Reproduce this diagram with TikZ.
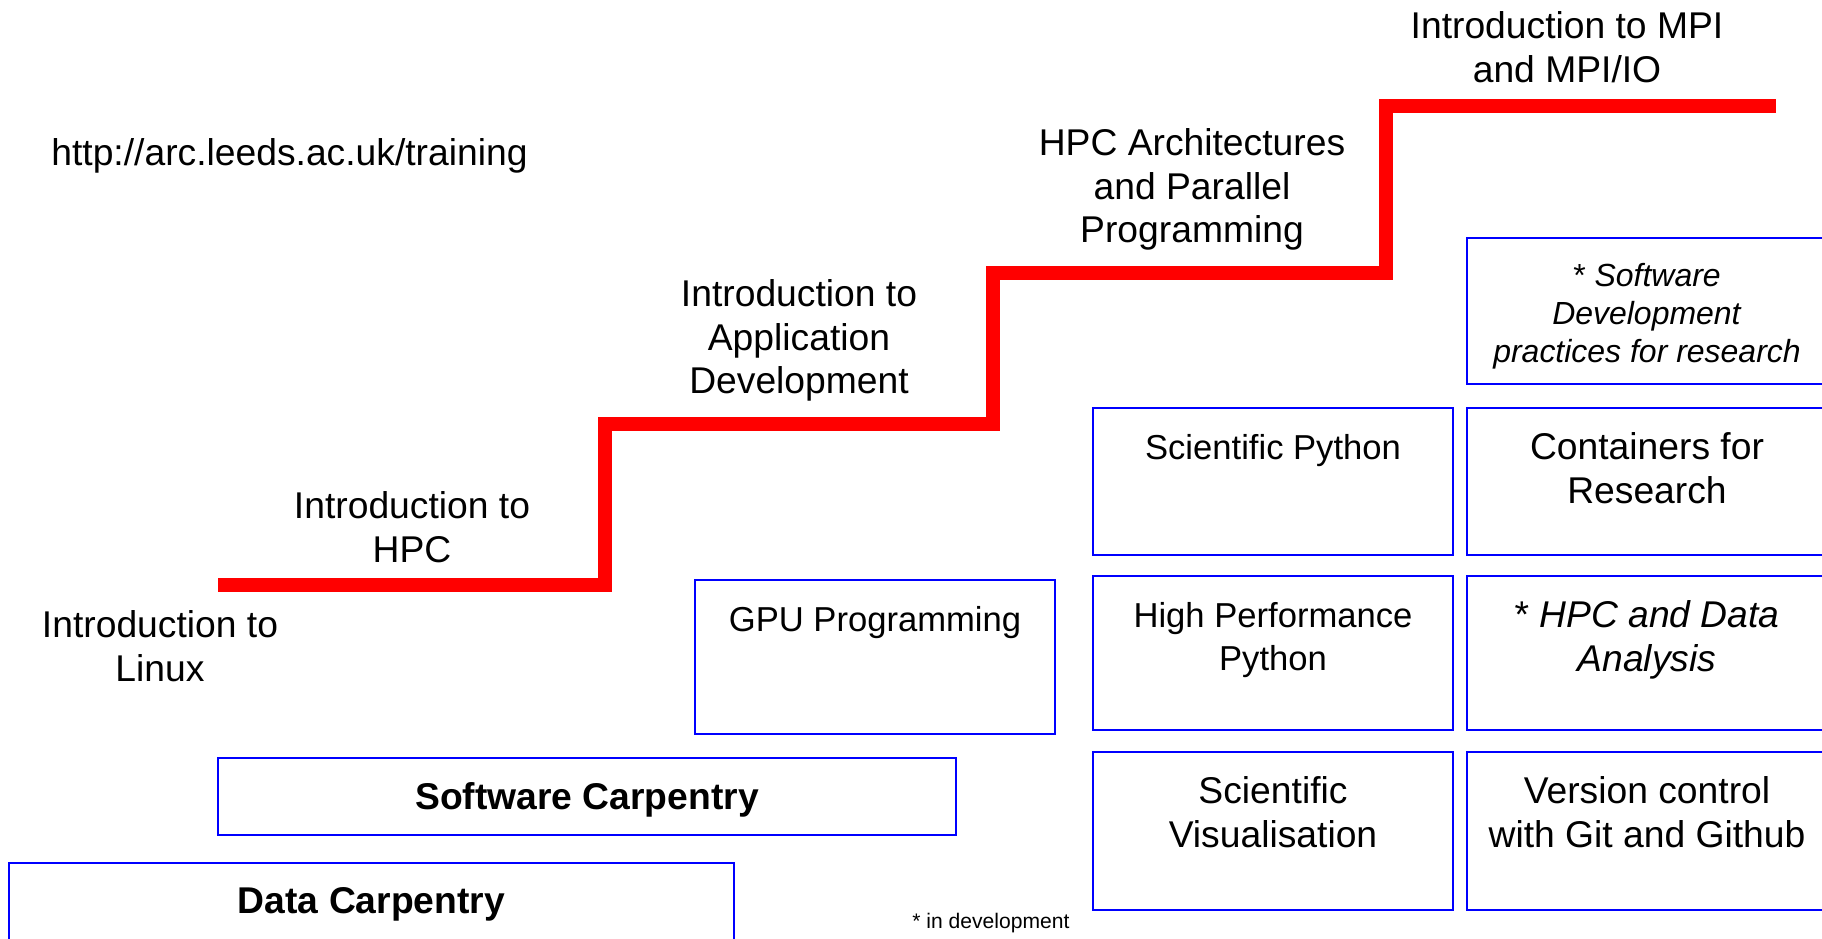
\documentclass[tikz,border=0pt]{standalone}
\usepackage{fontspec}
\setmainfont{Liberation Sans}
\usetikzlibrary{positioning}

\begin{document}
\begin{tikzpicture}[x=0.02cm, y=-0.02cm,
    every node/.style={inner sep=0pt, align=center, font=\fontsize{21.2}{24.9}\selectfont},
    coursebox/.style={draw=blue, line width=1.2pt, minimum width=7.2cm},
    smalltext/.style={font=\fontsize{19.7}{24.4}\selectfont}]
    \path[use as bounding box] (0,0) rectangle (1822,938);
    \clip (0,0) rectangle (1822,938);

    % Staircase
    \draw[red, line width=8.5pt] (218,585) -- (605,585) -- (605,424) -- (993,424)
        -- (993,273) -- (1386,273) -- (1386,106) -- (1776,106);
    % Step labels
    \node[anchor=north] (linux) at (160,610) {Introduction to\\Linux};
    \node[anchor=north] (hpc) at (412,491) {Introduction to\\HPC};
    \node[anchor=north] (appdev) at (799,279) {Introduction to\\Application\\Development};
    \node[anchor=north] (arch) at (1192,128) {HPC Architectures\\and Parallel\\Programming};
    \node[anchor=north] (mpi) at (1567,11) {Introduction to MPI\\and MPI/IO};
    \node[anchor=base west] (url) at (51,165) {http://arc.leeds.ac.uk/training};

    % Carpentry boxes
    \node[coursebox, minimum width=14.76cm, minimum height=1.54cm] (swc) at (587,796.5) {};
    \node[below=0.5cm of swc.north] (swctext) {\bfseries Software Carpentry};
    \node[coursebox, minimum width=14.5cm, minimum height=1.74cm] (dc) at (371.5,906.5) {};
    \node[below=0.5cm of dc.north] (dctext) {\bfseries Data Carpentry};

    % Course boxes
    \node[coursebox, minimum height=3.08cm] (gpu) at (875,657) {};
    \node[smalltext, below=0.54cm of gpu.north] (gputext) {GPU Programming};
    \node[coursebox, minimum height=2.94cm] (scipy) at (1273,481.5) {};
    \node[smalltext, below=0.54cm of scipy.north] (scipytext) {Scientific Python};
    \node[coursebox, minimum height=3.08cm] (hppy) at (1273,653) {};
    \node[smalltext, below=0.54cm of hppy.north] (hppytext) {High Performance\\Python};
    \node[coursebox, minimum height=3.16cm] (scivis) at (1273,831) {};
    \node[below=0.5cm of scivis.north] (scivistext) {Scientific\\Visualisation};
    \node[coursebox, minimum height=2.92cm] (softdev) at (1647,311) {};
    \node[below=0.52cm of softdev.north, font=\fontsize{18.2}{21.5}\selectfont] (softdevtext)
        {* \textit{Software}\\\textit{Development}\\\textit{practices for research}};
    \node[coursebox, minimum height=2.94cm] (containers) at (1647,481.5) {};
    \node[below=0.5cm of containers.north] (containerstext) {Containers for\\Research};
    \node[coursebox, minimum height=3.08cm] (hpcda) at (1647,653) {};
    \node[below=0.5cm of hpcda.north] (hpcdatext) {* \textit{HPC and Data}\\\textit{Analysis}};
    \node[coursebox, minimum height=3.16cm] (git) at (1647,831) {};
    \node[below=0.5cm of git.north] (gittext) {Version control\\with Git and Github};

    % Footnote
    \node[anchor=base west, font=\fontsize{12}{14}\selectfont] (devnote) at (912,928) {* in development};
\end{tikzpicture}
\end{document}
